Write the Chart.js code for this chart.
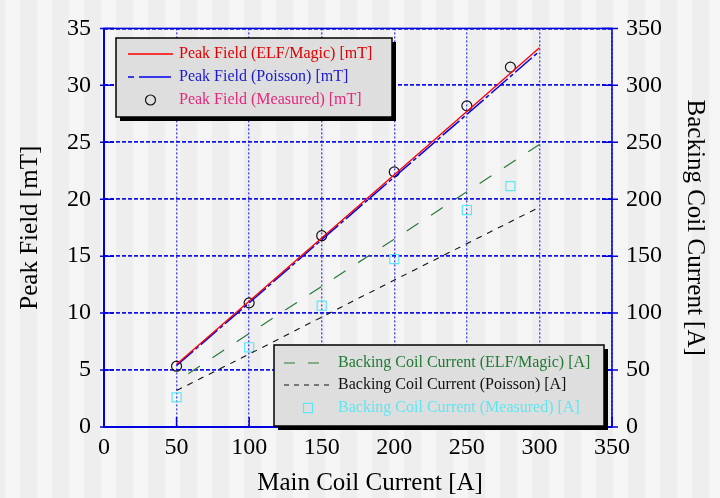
<!DOCTYPE html>
<html>
<head>
<meta charset="utf-8">
<script src="https://cdn.jsdelivr.net/npm/chart.js@4/dist/chart.umd.min.js"></script>
<style>
  html, body { margin: 0; padding: 0; background: #f0f0f0; }
  canvas { display: block; }
</style>
</head>
<body>
<canvas id="coilChart" width="720" height="498"></canvas>
<script>
// values
const mainCurrent = [50, 100, 150, 200, 250, 300];
const measuredCurrent = [50, 100, 150, 200, 250, 280];
const peakFieldElf = [5.5, 11.05, 16.6, 22.15, 27.7, 33.3];
const peakFieldPoisson = [5.4, 10.9, 16.45, 21.95, 27.45, 33.0];
const peakFieldMeasured = [5.34, 10.9, 16.8, 22.4, 28.2, 31.6];
const backingElf = [40, 82, 123.5, 165, 206.5, 248];
const backingPoisson = [32, 64, 96.5, 129, 161, 193];
const backingMeasured = [26, 70, 106.5, 147.5, 190.5, 211.5];

const currentTicks = [0, 50, 100, 150, 200, 250, 300, 350];
const fieldTicks = [0, 5, 10, 15, 20, 25, 30, 35];
const backingTicks = [0, 50, 100, 150, 200, 250, 300, 350];

const xTitle = "Main Coil Current [A]";

const SERIF = "'Liberation Serif', 'DejaVu Serif', serif";
const AXIS_BLUE = "#0000dd";

const toPoints = (xs, ys) => xs.map((x, i) => ({ x, y: ys[i] }));
const setTicks = (values) => (scale) => { scale.ticks = values.map((v) => ({ value: v })); };

// striped grey background, like the original export
const stripesPlugin = {
  id: "stripes",
  beforeDraw(chart) {
    const { ctx, width, height } = chart;
    ctx.save();
    ctx.fillStyle = "#f5f5f5";
    ctx.fillRect(0, 0, width, height);
    ctx.fillStyle = "#eeeeee";
    for (let x = -12; x < width; x += 32) ctx.fillRect(x, 0, 17, height);
    ctx.restore();
  },
};

// frame, inward tick marks and the x title (sits a bit right of centre in the original)
const framePlugin = {
  id: "frame",
  afterDatasetsDraw(chart) {
    const { ctx, chartArea: a, scales } = chart;
    ctx.save();
    ctx.strokeStyle = AXIS_BLUE;
    ctx.setLineDash([]);
    ctx.lineWidth = 1.5;
    ctx.strokeRect(a.left, a.top, a.right - a.left, a.bottom - a.top);
    ctx.lineWidth = 2;
    ctx.beginPath();
    ctx.moveTo(a.left, a.top); ctx.lineTo(a.left, a.bottom); ctx.lineTo(a.right, a.bottom);
    ctx.stroke();
    ctx.lineWidth = 1.5;
    ctx.beginPath();
    scales.x.ticks.forEach((t) => {
      const px = scales.x.getPixelForValue(t.value);
      ctx.moveTo(px, a.bottom); ctx.lineTo(px, a.bottom - 10);
    });
    scales.y.ticks.forEach((t) => {
      const py = scales.y.getPixelForValue(t.value);
      ctx.moveTo(a.left - 4, py); ctx.lineTo(a.left + 10, py);
    });
    scales.y2.ticks.forEach((t) => {
      const py = scales.y2.getPixelForValue(t.value);
      ctx.moveTo(a.right - 10, py); ctx.lineTo(a.right + 6, py);
    });
    ctx.stroke();

    ctx.fillStyle = "#000";
    ctx.font = "25px " + SERIF;
    ctx.textAlign = "center";
    ctx.textBaseline = "middle";
    ctx.fillText(xTitle, (a.left + a.right) / 2 + 12, 483);
    ctx.restore();
  },
};

// two boxed legends drawn from the datasets
const legendGroups = [
  { box: [116, 38, 276, 79], items: [0, 1, 2], rows: [54, 77, 100], sample: [128, 173], textX: 179,
    textColors: ["#e00000", "#1a1ad0", "#e3287e"] },
  { box: [274, 345, 330, 81], items: [3, 4, 5], rows: [363, 385, 408], sample: [284, 332], textX: 338,
    textColors: ["#1f7a32", "#111111", "#5ee6f2"] },
];

const boxLegendPlugin = {
  id: "boxLegend",
  afterDraw(chart) {
    const { ctx } = chart;
    ctx.save();
    legendGroups.forEach((g) => {
      const [bx, by, bw, bh] = g.box;
      ctx.fillStyle = "#000";
      ctx.fillRect(bx + 4, by + 4, bw, bh);
      ctx.fillStyle = "#dedede";
      ctx.fillRect(bx, by, bw, bh);
      ctx.strokeStyle = "#000";
      ctx.lineWidth = 1.5;
      ctx.setLineDash([]);
      ctx.strokeRect(bx, by, bw, bh);
      g.items.forEach((di, k) => {
        const ds = chart.data.datasets[di];
        const y = g.rows[k];
        if (ds.showLine === false) {
          const cx = (g.sample[0] + g.sample[1]) / 2;
          ctx.setLineDash([]);
          ctx.lineWidth = ds.borderWidth;
          ctx.strokeStyle = ds.borderColor;
          ctx.beginPath();
          if (ds.pointStyle === "rect") {
            const s = ds.pointRadius * Math.SQRT1_2;
            ctx.rect(cx - s, y - s, 2 * s, 2 * s);
          } else {
            ctx.arc(cx, y, ds.pointRadius, 0, Math.PI * 2);
          }
          ctx.stroke();
        } else {
          ctx.setLineDash(ds.legendDash || ds.borderDash || []);
          ctx.lineWidth = ds.borderWidth;
          ctx.strokeStyle = ds.borderColor;
          ctx.beginPath();
          ctx.moveTo(g.sample[0], y); ctx.lineTo(g.sample[1], y);
          ctx.stroke();
        }
        ctx.setLineDash([]);
        ctx.fillStyle = g.textColors[k];
        ctx.font = "16px " + SERIF;
        ctx.textBaseline = "middle";
        ctx.textAlign = "left";
        ctx.fillText(ds.label, g.textX, y);
      });
    });
    ctx.restore();
  },
};

new Chart(document.getElementById("coilChart").getContext("2d"), {
  type: "line",
  data: {
    datasets: [
      { label: "Peak Field (ELF/Magic) [mT]", data: toPoints(mainCurrent, peakFieldElf), yAxisID: "y",
        borderColor: "#ff0000", borderWidth: 1.3, pointRadius: 0, tension: 0 },
      { label: "Peak Field (Poisson) [mT]", data: toPoints(mainCurrent, peakFieldPoisson), yAxisID: "y",
        borderColor: "#0000ee", borderWidth: 1.5, borderDash: [22, 3, 4, 3], legendDash: [6, 5, 26, 0], pointRadius: 0, tension: 0 },
      { label: "Peak Field (Measured) [mT]", data: toPoints(measuredCurrent, peakFieldMeasured), yAxisID: "y",
        showLine: false, pointStyle: "circle", pointRadius: 5, borderColor: "#111", backgroundColor: "rgba(0,0,0,0)", borderWidth: 1.2 },
      { label: "Backing Coil Current (ELF/Magic) [A]", data: toPoints(mainCurrent, backingElf), yAxisID: "y2",
        borderColor: "#2a7a38", borderWidth: 1.2, borderDash: [14, 15], borderDashOffset: 15, legendDash: [11, 13], pointRadius: 0, tension: 0 },
      { label: "Backing Coil Current (Poisson) [A]", data: toPoints(mainCurrent, backingPoisson), yAxisID: "y2",
        borderColor: "#111", borderWidth: 1.1, borderDash: [6, 6], legendDash: [5, 5], pointRadius: 0, tension: 0 },
      { label: "Backing Coil Current (Measured) [A]", data: toPoints(measuredCurrent, backingMeasured), yAxisID: "y2",
        showLine: false, pointStyle: "rect", pointRadius: 6.4, borderColor: "#5ee6f2", backgroundColor: "rgba(0,0,0,0)", borderWidth: 1.2 },
    ],
  },
  options: {
    responsive: false,
    animation: false,
    layout: { padding: { top: 21, left: 0, right: 0, bottom: 0 } },
    plugins: { legend: { display: false }, tooltip: { enabled: false } },
    scales: {
      x: {
        type: "linear", min: 0, max: 350,
        afterBuildTicks: setTicks(currentTicks),
        afterFit: (s) => { s.height = 71; },
        grid: { color: "#4646f2", lineWidth: 1.4, drawTicks: false },
        border: { display: false, dash: [2, 2] },
        ticks: { color: "#000", padding: 6, font: { family: SERIF, size: 24 } },
        title: { display: false },
      },
      y: {
        type: "linear", position: "left", min: 0, max: 35,
        afterBuildTicks: setTicks(fieldTicks),
        afterFit: (s) => { s.width = 104; },
        grid: { color: "#1414e6", lineWidth: 1.8, drawTicks: false },
        border: { display: false, dash: [4, 2] },
        ticks: { color: "#000", padding: 13, font: { family: SERIF, size: 24 } },
        title: { display: true, text: "Peak Field [mT]", color: "#000", padding: { top: 15, bottom: 0 }, font: { family: SERIF, size: 25 } },
      },
      y2: {
        type: "linear", position: "right", min: 0, max: 350,
        afterBuildTicks: setTicks(backingTicks),
        afterFit: (s) => { s.width = 108; },
        grid: { drawOnChartArea: false, drawTicks: false },
        border: { display: false },
        ticks: { color: "#000", padding: 14, font: { family: SERIF, size: 24 } },
        title: { display: true, text: "Backing Coil Current [A]", color: "#000", padding: { top: 10, bottom: 0 }, font: { family: SERIF, size: 25 } },
      },
    },
  },
  plugins: [stripesPlugin, framePlugin, boxLegendPlugin],
});
</script>
</body>
</html>
